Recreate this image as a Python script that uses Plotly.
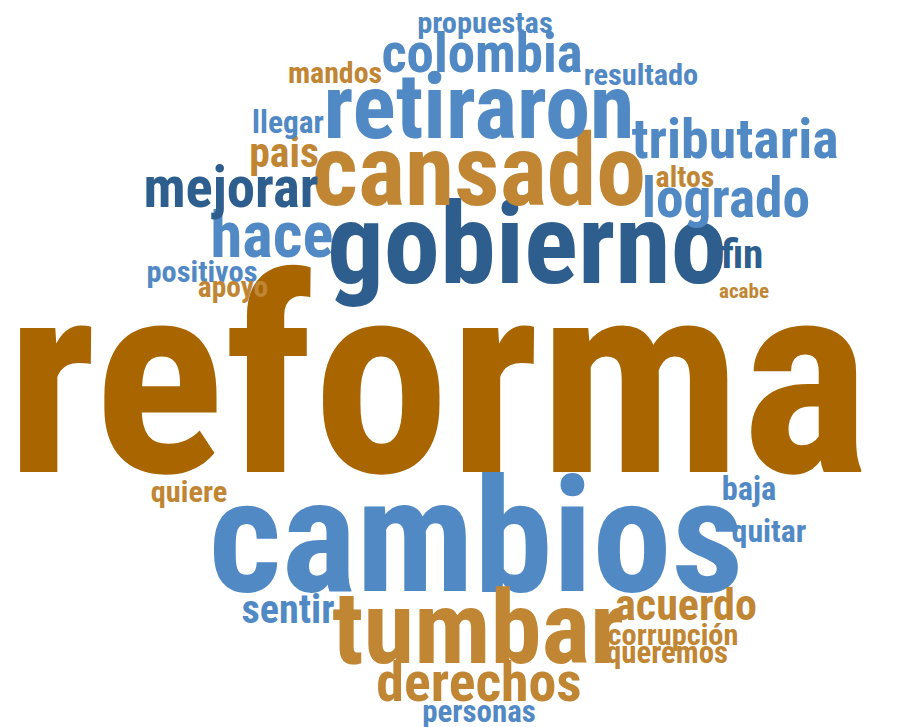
import plotly.graph_objects as go

# ---- data: words, estimated relative frequency, colour group ----
words = ["reforma", "cambios", "gobierno", "tumbar", "cansado", "retiraron",
         "hace", "mejorar", "tributaria", "colombia", "derechos", "logrado",
         "acuerdo", "sentir", "fin", "pais", "llegar", "baja", "quitar",
         "quiere", "personas", "corrupción", "queremos", "propuestas",
         "resultado", "positivos", "mandos", "altos", "apoyo", "acabe"]
freq = [278, 162, 115, 105, 102, 92,
        66, 58, 57, 56, 57, 56.5,
        45, 41, 42, 42.5, 32, 33, 32.5,
        31, 31.5, 31, 31.5, 31,
        31, 31, 30.5, 30.5, 30, 21.5]
group = ["main", "blue", "navy", "gold", "gold", "blue",
         "blue", "navy", "blue", "blue", "gold", "blue",
         "gold", "blue", "navy", "gold", "blue", "blue", "blue",
         "gold", "blue", "gold", "gold", "blue",
         "blue", "blue", "gold", "gold", "gold", "gold"]

# ---- cloud layout (word centre x, baseline y, in window pixels) ----
pos_x = [438, 476, 527, 478, 479, 479,
         272, 231, 735, 482, 479, 726,
         686, 288, 742, 284, 288, 749, 769,
         189, 479, 673, 667, 485,
         641, 202, 335, 685, 233, 744]
pos_y = [472, 591, 283, 663, 205, 138,
         257, 207, 158, 72, 701, 217,
         620, 623, 268, 167, 133, 500, 542,
         502, 722, 645, 663, 33,
         85, 282, 83, 187, 297, 298]

palette = {"main": "#a86500", "gold": "#c18634", "navy": "#2e5e8d", "blue": "#5189c5"}
SCALE = 0.98
sizes = [f * SCALE for f in freq]
colors = [palette[g] for g in group]
# plotly puts the text baseline 0.25*size below the point for 'middle center'
ys = [b - 0.25 * s for b, s in zip(pos_y, sizes)]

W, H = 923, 727
PAGE_MARGIN = 8  # default body margin of the html page
fig = go.Figure(go.Scatter(
    x=pos_x, y=ys, text=words, mode="text",
    textposition="middle center",
    textfont=dict(size=sizes, color=colors,
                  family="Roboto Condensed, Open Sans Condensed, DejaVu Sans Condensed, sans-serif",
                  weight="bold"),
    hoverinfo="text", cliponaxis=False,
))
fig.update_layout(
    width=W - PAGE_MARGIN, height=H - PAGE_MARGIN, autosize=False,
    margin=dict(l=0, r=0, t=0, b=0),
    paper_bgcolor="white", plot_bgcolor="white",
    showlegend=False,
    xaxis=dict(range=[PAGE_MARGIN, W], visible=False, fixedrange=True),
    yaxis=dict(range=[H, PAGE_MARGIN], visible=False, fixedrange=True),
)
fig.write_html("out.html")
